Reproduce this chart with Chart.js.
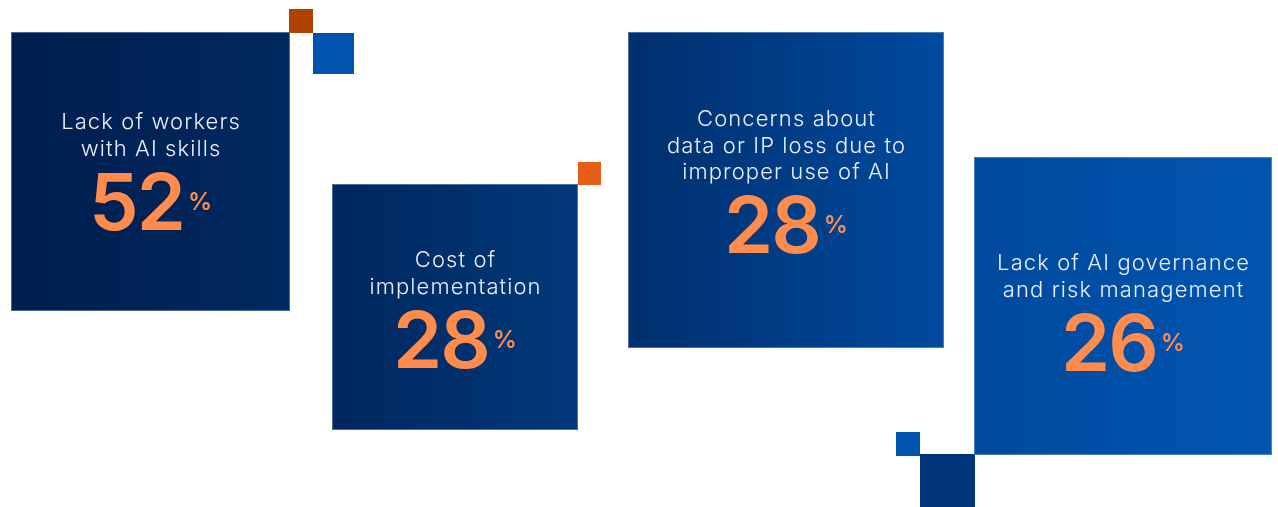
<!DOCTYPE html>
<html>
<head>
<meta charset="utf-8">
<script src="https://cdn.jsdelivr.net/npm/chart.js@4"></script>
<style>
  html, body { margin: 0; padding: 0; background: #ffffff; }
  #wrap { width: 1278px; height: 507px; position: relative; }
</style>
</head>
<body>
<div id="wrap"><canvas id="c" width="1278" height="507"></canvas></div>
<script>
// ---- data ----
const categories = [
  ["Lack of workers", "with AI skills"],
  ["Cost of", "implementation"],
  ["Concerns about", "data or IP loss due to", "improper use of AI"],
  ["Lack of AI governance", "and risk management"]
];
const values = [52, 28, 28, 26];
const valueSuffix = "%";

// ---- layout / styles (positions in the 1278x507 frame) ----
const boxLayout = [
  { x: 11,  y: 32,  s: 279, c0: '#001d4f', c1: '#00295f', base: 129 },
  { x: 332, y: 184, s: 246, c0: '#00275e', c1: '#00397a', base: 267 },
  { x: 628, y: 32,  s: 316, c0: '#002f6d', c1: '#004a9e', base: 126 },
  { x: 974, y: 157, s: 298, c0: '#004a9d', c1: '#0055b0', base: 270 }
];
const accentLayout = [
  { x: 289, y: 9,   s: 24, c: '#b04200' },
  { x: 313, y: 33,  s: 41, c: '#0054ae' },
  { x: 578, y: 162, s: 23, c: '#e65e13' },
  { x: 896, y: 432, s: 24, c: '#0054ae' },
  { x: 920, y: 454, s: 55, c: '#00357a' }
];
const labelFont = '300 22px Inter';
const labelSpacing = 1.1;
const labelColor = '#e9eff8';
const lineH = 26.5;
const numFont = '600 79px Inter';
const numSpacing = -2;
const pctFont = '600 24px Inter';
const numColor = '#ff8c4d';

const tilesPlugin = {
  id: 'tiles',
  afterDatasetsDraw(chart) {
    const { ctx, scales: { x, y } } = chart;
    ctx.save();
    accentLayout.forEach(a => {
      const px = x.getPixelForValue(a.x), py = y.getPixelForValue(a.y);
      const pw = x.getPixelForValue(a.x + a.s) - px, ph = y.getPixelForValue(a.y + a.s) - py;
      ctx.fillStyle = a.c;
      ctx.fillRect(px, py, pw, ph);
    });
    categories.forEach((lines, i) => {
      const b = boxLayout[i];
      const px = x.getPixelForValue(b.x), py = y.getPixelForValue(b.y);
      const pw = x.getPixelForValue(b.x + b.s) - px, ph = y.getPixelForValue(b.y + b.s) - py;
      const g = ctx.createLinearGradient(px, 0, px + pw, 0);
      g.addColorStop(0, b.c0);
      g.addColorStop(1, b.c1);
      ctx.fillStyle = g;
      ctx.fillRect(px, py, pw, ph);
      ctx.strokeStyle = 'rgba(160,190,230,0.45)';
      ctx.lineWidth = 1;
      ctx.strokeRect(px + 0.5, py + 0.5, pw - 1, ph - 1);

      const cx = px + pw / 2;
      const base = y.getPixelForValue(b.base);
      ctx.fillStyle = labelColor;
      ctx.font = labelFont;
      ctx.letterSpacing = labelSpacing + 'px';
      ctx.textAlign = 'left';
      ctx.textBaseline = 'alphabetic';
      lines.forEach((t, k) => {
        const w = ctx.measureText(t).width - labelSpacing;
        ctx.fillText(t, cx - w / 2, base + k * lineH);
      });

      const numBase = base + (lines.length - 1) * lineH + 74;
      const numText = String(values[i]);
      ctx.font = numFont;
      ctx.letterSpacing = numSpacing + 'px';
      const nw = ctx.measureText(numText).width;
      ctx.font = pctFont;
      ctx.letterSpacing = '0px';
      const pw2 = ctx.measureText(valueSuffix).width;
      const gap = 4;
      const total = nw + gap + pw2;
      const left = cx - total / 2;
      ctx.fillStyle = numColor;
      ctx.font = numFont;
      ctx.letterSpacing = numSpacing + 'px';
      ctx.fillText(numText, left, numBase);
      ctx.font = pctFont;
      ctx.letterSpacing = '0px';
      ctx.fillText(valueSuffix, left + nw + gap, numBase - 20);
    });
    ctx.restore();
  }
};

new Chart(document.getElementById('c'), {
  type: 'scatter',
  data: {
    datasets: [{
      label: 'Barriers',
      data: categories.map((c, i) => ({ x: boxLayout[i].x + boxLayout[i].s / 2, y: boxLayout[i].y + boxLayout[i].s / 2, v: values[i] })),
      pointRadius: 0,
      pointHoverRadius: 0
    }]
  },
  options: {
    responsive: false,
    animation: false,
    devicePixelRatio: 1,
    layout: { padding: 0 },
    plugins: { legend: { display: false }, tooltip: { enabled: false } },
    scales: {
      x: { type: 'linear', min: 0, max: 1278, display: false },
      y: { type: 'linear', min: 0, max: 507, reverse: true, display: false }
    }
  },
  plugins: [tilesPlugin]
});
</script>
</body>
</html>
